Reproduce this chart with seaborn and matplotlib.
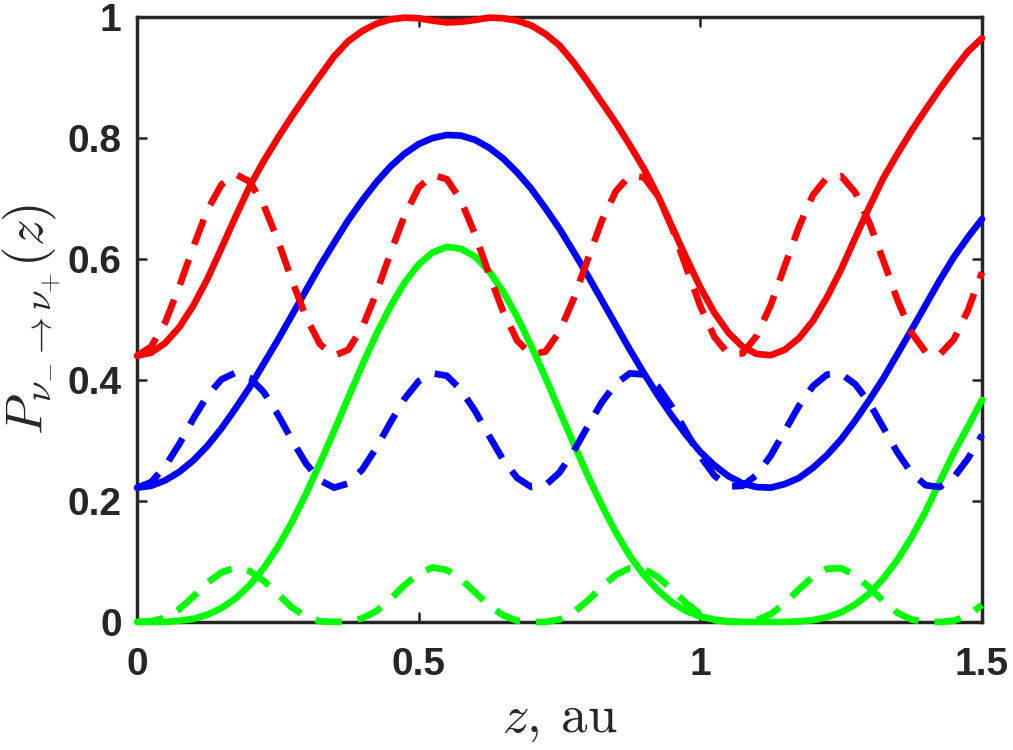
import matplotlib
matplotlib.use("Agg")
import matplotlib.pyplot as plt
import numpy as np
import pandas as pd
import seaborn as sns

# sample positions along z (au)
z = np.linspace(0, 1.5, 61)

# values
red_solid = [0.440, 0.445, 0.461, 0.487, 0.523, 0.567, 0.618, 0.670, 0.720, 0.762,
             0.800, 0.836, 0.870, 0.903, 0.935, 0.960, 0.977, 0.989, 0.996, 0.999,
             0.998, 0.994, 0.991, 0.992, 0.995, 0.999, 0.998, 0.994, 0.986, 0.972,
             0.953, 0.925, 0.893, 0.859, 0.825, 0.788, 0.749, 0.704, 0.653, 0.602,
             0.553, 0.511, 0.478, 0.455, 0.443, 0.441, 0.450, 0.469, 0.498, 0.537,
             0.583, 0.635, 0.686, 0.734, 0.774, 0.812, 0.847, 0.881, 0.913, 0.943,
             0.965]
blue_solid = [0.222, 0.225, 0.234, 0.248, 0.267, 0.291, 0.320, 0.353, 0.388, 0.427,
              0.466, 0.507, 0.548, 0.589, 0.627, 0.664, 0.697, 0.727, 0.753, 0.774,
              0.790, 0.800, 0.805, 0.804, 0.797, 0.784, 0.766, 0.743, 0.716, 0.684,
              0.650, 0.612, 0.573, 0.532, 0.491, 0.450, 0.411, 0.374, 0.340, 0.309,
              0.281, 0.259, 0.241, 0.229, 0.223, 0.222, 0.228, 0.238, 0.255, 0.276,
              0.302, 0.333, 0.367, 0.403, 0.443, 0.483, 0.524, 0.565, 0.603, 0.636,
              0.666]
green_solid = [0.000, 0.000, 0.000, 0.002, 0.005, 0.012, 0.023, 0.039, 0.061, 0.089,
               0.124, 0.165, 0.212, 0.263, 0.316, 0.371, 0.425, 0.476, 0.522, 0.561,
               0.591, 0.611, 0.620, 0.617, 0.604, 0.580, 0.546, 0.504, 0.456, 0.404,
               0.349, 0.295, 0.242, 0.193, 0.148, 0.109, 0.077, 0.052, 0.032, 0.018,
               0.009, 0.004, 0.001, 0.000, 0.000, 0.000, 0.000, 0.001, 0.003, 0.008,
               0.016, 0.029, 0.047, 0.072, 0.103, 0.140, 0.183, 0.232, 0.280, 0.323,
               0.367]
red_dashed = [0.440, 0.455, 0.495, 0.554, 0.620, 0.681, 0.723, 0.740, 0.728, 0.689,
              0.631, 0.565, 0.504, 0.459, 0.440, 0.450, 0.487, 0.544, 0.610, 0.672,
              0.718, 0.739, 0.732, 0.697, 0.641, 0.575, 0.513, 0.465, 0.442, 0.447,
              0.480, 0.534, 0.599, 0.663, 0.712, 0.738, 0.735, 0.704, 0.651, 0.586,
              0.522, 0.471, 0.443, 0.444, 0.473, 0.524, 0.589, 0.653, 0.706, 0.735,
              0.737, 0.710, 0.660, 0.597, 0.532, 0.478, 0.446, 0.442, 0.467, 0.515,
              0.578]
blue_dashed = [0.222, 0.231, 0.257, 0.294, 0.336, 0.374, 0.401, 0.412, 0.404, 0.380,
               0.343, 0.301, 0.262, 0.234, 0.222, 0.229, 0.252, 0.288, 0.330, 0.369,
               0.398, 0.411, 0.407, 0.384, 0.349, 0.308, 0.268, 0.238, 0.223, 0.226,
               0.247, 0.282, 0.323, 0.363, 0.394, 0.411, 0.409, 0.389, 0.355, 0.314,
               0.274, 0.242, 0.224, 0.225, 0.243, 0.275, 0.316, 0.357, 0.390, 0.409,
               0.410, 0.393, 0.362, 0.321, 0.280, 0.246, 0.226, 0.223, 0.239, 0.270,
               0.309]
green_dashed = [0.000, 0.001, 0.007, 0.021, 0.042, 0.065, 0.082, 0.090, 0.084, 0.068,
                0.046, 0.024, 0.009, 0.001, 0.000, 0.001, 0.006, 0.018, 0.038, 0.061,
                0.080, 0.090, 0.086, 0.071, 0.049, 0.027, 0.011, 0.002, 0.000, 0.000,
                0.004, 0.016, 0.035, 0.058, 0.078, 0.089, 0.088, 0.074, 0.053, 0.031,
                0.013, 0.003, 0.000, 0.000, 0.003, 0.013, 0.031, 0.054, 0.075, 0.088,
                0.089, 0.077, 0.057, 0.034, 0.015, 0.004, 0.000, 0.000, 0.002, 0.011,
                0.028]

x_ticks = [0, 0.5, 1, 1.5]
x_tick_labels = ["0", "0.5", "1", "1.5"]
y_ticks = [0, 0.2, 0.4, 0.6, 0.8, 1]
y_tick_labels = ["0", "0.2", "0.4", "0.6", "0.8", "1"]

palette = {"red": "#ff0000", "blue": "#0000ff", "green": "#00ff00"}
n = len(z)

solid = pd.DataFrame({
    "z": np.tile(z, 3),
    "P": red_solid + blue_solid + green_solid,
    "curve": ["red"] * n + ["blue"] * n + ["green"] * n,
})
dashed = pd.DataFrame({
    "z": np.tile(z, 3),
    "P": red_dashed + blue_dashed + green_dashed,
    "curve": ["red"] * n + ["blue"] * n + ["green"] * n,
})

sns.set_theme(style="ticks")
plt.rcParams["font.family"] = ["Liberation Sans", "DejaVu Sans"]
plt.rcParams["mathtext.fontset"] = "cm"

dark = "#262626"
fig = plt.figure(figsize=(10.13, 7.5), dpi=100)
ax = fig.add_axes([0.1352, 0.1707, 0.8342, 0.8066])

line_kws = dict(estimator=None, errorbar=None, linewidth=4.8, legend=False,
                ax=ax, zorder=3, clip_on=False,
                solid_joinstyle="round", dash_joinstyle="round")
sns.lineplot(data=solid, x="z", y="P", hue="curve", palette=palette, **line_kws)
sns.lineplot(data=dashed, x="z", y="P", hue="curve", palette=palette,
             linestyle=(0, (4.0, 2.4)), **line_kws)

ax.set_xlim(0, 1.5)
ax.set_ylim(0, 1)
ax.set_xticks(x_ticks, x_tick_labels)
ax.set_yticks(y_ticks, y_tick_labels)
ax.tick_params(direction="in", length=7, width=1.8, top=True, right=True,
               labelsize=28, colors=dark)
ax.tick_params(axis="x", pad=18)
ax.tick_params(axis="y", pad=11)
for lab in ax.get_xticklabels() + ax.get_yticklabels():
    lab.set_fontweight("bold")

for sp in ax.spines.values():
    sp.set_visible(True)
    sp.set_linewidth(2.5)
    sp.set_color(dark)

ax.set_xlabel(r"$z,\:\mathrm{au}$", fontsize=38, color=dark, labelpad=8)
ax.set_ylabel(r"$P_{\nu_{-}\rightarrow\nu_{+}}(z)$", fontsize=38, color=dark, labelpad=3)

fig.savefig("out.png", dpi=100)
